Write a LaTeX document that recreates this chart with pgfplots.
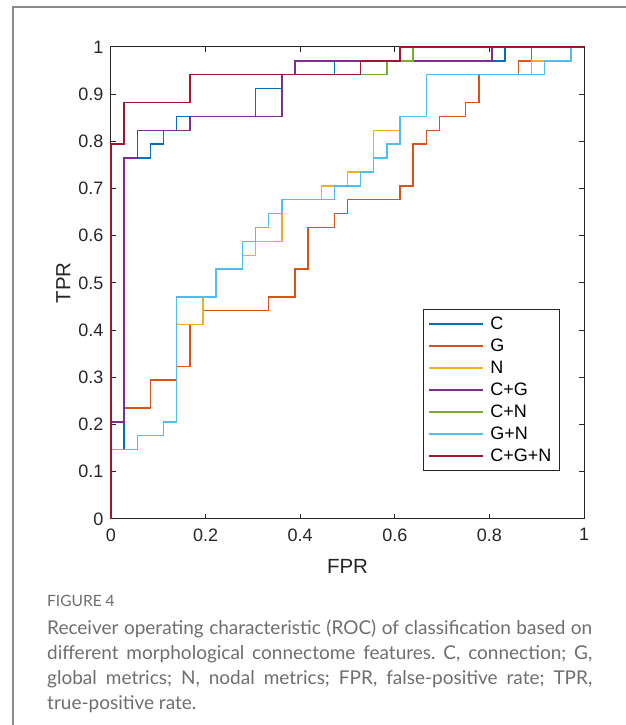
\documentclass[border=0pt]{standalone}
\usepackage{fontspec}
\setmainfont{Liberation Sans}
\newfontfamily\capfont{Lato}
\usepackage{pgfplots}
\pgfplotsset{compat=1.18}

% MATLAB default line colours
\definecolor{mC}{HTML}{0072BD}
\definecolor{mG}{HTML}{D95319}
\definecolor{mN}{HTML}{EDB120}
\definecolor{mCG}{HTML}{7E2F8E}
\definecolor{mCN}{HTML}{77AC30}
\definecolor{mGN}{HTML}{4DBEEE}
\definecolor{mCGN}{HTML}{A2142F}
\definecolor{axgray}{HTML}{262626}
\definecolor{capgray}{HTML}{6E6E6E}
\definecolor{framegray}{HTML}{8C8C8C}

\begin{document}
\frenchspacing
\begin{tikzpicture}
\path[use as bounding box] (-111pt,-206pt) rectangle (515pt,519pt);
\draw[framegray, line width=1.5pt] (-98pt,-206pt) -- (-98pt,512pt) -- (515pt,512pt);

% x in false positives (of 36), y in true positives (of 34)
\begin{axis}[
    at={(0pt,0pt)}, anchor=south west,
    scale only axis,
    width=473pt, height=472pt,
    xmin=0, xmax=36, ymin=0, ymax=34,
    clip=false,
    xtick={0,7.2,14.4,21.6,28.8,36},
    xticklabels={0,0.2,0.4,0.6,0.8,1},
    ytick={0,3.4,6.8,10.2,13.6,17,20.4,23.8,27.2,30.6,34},
    yticklabels={0,0.1,0.2,0.3,0.4,0.5,0.6,0.7,0.8,0.9,1},
    tick align=inside,
    major tick length=5pt,
    axis line style={axgray, line width=1pt},
    tick style={axgray, line width=1pt},
    ticklabel style={font=\fontsize{18}{21}\selectfont, text=axgray},
    yticklabel style={xshift=-4pt},
    xticklabel style={yshift=-6pt},
    xlabel={FPR}, ylabel={TPR},
    label style={font=\fontsize{20.5}{24}\selectfont, text=axgray},
    xlabel style={at={(axis description cs:0.5,-0.0996)}, anchor=center},
    ylabel style={at={(axis description cs:-0.101,0.5)}, anchor=center},
    every axis plot/.append style={line width=1.4pt},
    legend style={at={(axis description cs:0.949,0.102)}, anchor=south east,
        draw=axgray, line width=0.8pt, inner xsep=5pt, inner ysep=4pt,
        row sep=1pt, font=\fontsize{18}{21}\selectfont,
        nodes={inner sep=3pt, text height=13pt, text depth=2pt},
        /tikz/every odd column/.append style={column sep=4pt}},
    legend cell align=left,
    legend image code/.code={\draw[#1, line width=1.3pt] (3pt,0pt) -- (57pt,0pt);},
]
\addplot[mC] coordinates {(0,0)(0,5)(1,5)(1,26)(3,26)(3,27)(4,27)(4,28)(5,28)(5,29)(11,29)(11,31)(13,31)(13,32)(17,32)(17,33)(30,33)(30,34)(36,34)};
\addlegendentry{C}
\addplot[mG] coordinates {(0,0)(0,7)(1,7)(1,8)(3,8)(3,10)(5,10)(5,11)(6,11)(6,14)(7,14)(7,15)(12,15)(12,16)(14,16)(14,18)(15,18)(15,21)(17,21)(17,22)(18,22)(18,23)(22,23)(22,24)(23,24)(23,27)(24,27)(24,28)(25,28)(25,29)(27,29)(27,30)(28,30)(28,32)(31,32)(31,33)(32,33)(32,34)(36,34)};
\addlegendentry{G}
\addplot[mN] coordinates {(0,0)(0,5)(2,5)(2,6)(4,6)(4,7)(5,7)(5,14)(7,14)(7,16)(8,16)(8,18)(10,18)(10,19)(11,19)(11,20)(13,20)(13,23)(16,23)(16,24)(18,24)(18,25)(20,25)(20,28)(22,28)(22,29)(24,29)(24,32)(32,32)(32,33)(35,33)(35,34)(36,34)};
\addlegendentry{N}
\addplot[mCG] coordinates {(0,0)(0,7)(1,7)(1,26)(2,26)(2,28)(6,28)(6,29)(13,29)(13,32)(14,32)(14,33)(29,33)(29,34)(36,34)};
\addlegendentry{C+G}
\addplot[mCN] coordinates {(0,0)(0,27)(1,27)(1,30)(6,30)(6,32)(21,32)(21,33)(23,33)(23,34)(36,34)};
\addlegendentry{C+N}
\addplot[mGN] coordinates {(0,0)(0,5)(2,5)(2,6)(4,6)(4,7)(5,7)(5,16)(8,16)(8,18)(10,18)(10,20)(11,20)(11,21)(12,21)(12,22)(13,22)(13,23)(17,23)(17,24)(19,24)(19,25)(20,25)(20,26)(21,26)(21,27)(22,27)(22,29)(24,29)(24,32)(33,32)(33,33)(35,33)(35,34)(36,34)};
\addlegendentry{G+N}
\addplot[mCGN] coordinates {(0,0)(0,27)(1,27)(1,30)(6,30)(6,32)(19,32)(19,33)(22,33)(22,34)(36,34)};
\addlegendentry{C+G+N}
\end{axis}

\node[anchor=base west, inner sep=0pt, text=capgray, font=\capfont\fontsize{15.5}{17}\selectfont]
    at (-64pt,-87pt) {FIGURE 4};
\node[anchor=north west, inner sep=0pt, text=capgray, font=\capfont\fontsize{19}{25}\selectfont, align=left]
    at (-64pt,-101pt) {%
    \makebox[545pt][s]{Receiver operating characteristic (ROC) of classification based on}\\
    \makebox[545pt][s]{different morphological connectome features. C, connection; G,}\\
    \makebox[545pt][s]{global metrics; N, nodal metrics; FPR, false-positive rate; TPR,}\\
    true-positive rate.};
\end{tikzpicture}
\end{document}
